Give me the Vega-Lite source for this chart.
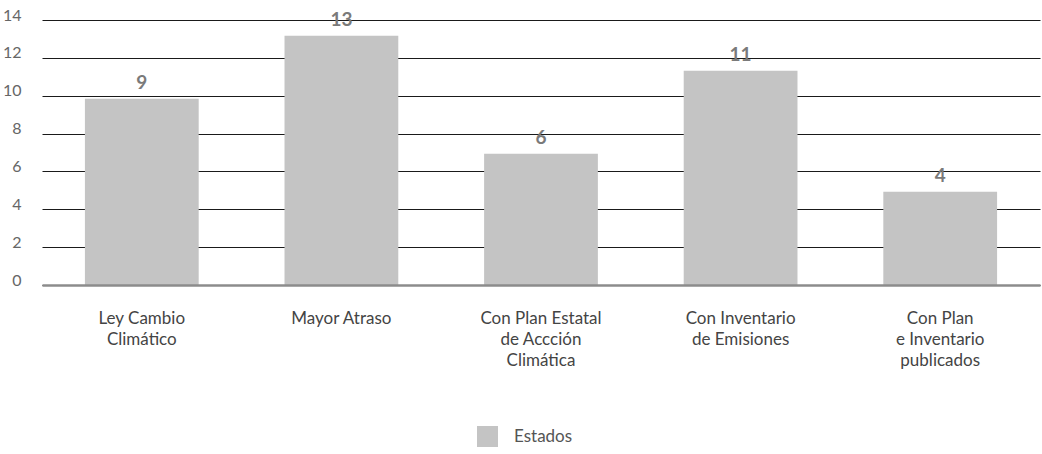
{
  "$schema": "https://vega.github.io/schema/vega-lite/v6.json",
  "width": 998,
  "height": 265,
  "autosize": {"type": "none"},
  "padding": {"left": 42, "top": 20, "right": 2, "bottom": 169},
  "background": "white",
  "config": {
    "view": {"stroke": null},
    "font": "Lato"
  },
  "data": {
    "values": [
      {"categoria": "Ley Cambio|Climático", "valor": 9.84, "etiqueta": "9", "serie": "Estados"},
      {"categoria": "Mayor Atraso", "valor": 13.17, "etiqueta": "13", "serie": "Estados"},
      {"categoria": "Con Plan Estatal|de Accción|Climática", "valor": 6.93, "etiqueta": "6", "serie": "Estados"},
      {"categoria": "Con Inventario|de Emisiones", "valor": 11.32, "etiqueta": "11", "serie": "Estados"},
      {"categoria": "Con Plan|e Inventario|publicados", "valor": 4.92, "etiqueta": "4", "serie": "Estados"}
    ]
  },
  "encoding": {
    "x": {
      "field": "categoria",
      "type": "nominal",
      "sort": null,
      "scale": {"paddingInner": 0.43, "paddingOuter": 0.215},
      "axis": {
        "title": null,
        "labelAngle": 0,
        "labelExpr": "split(datum.label, '|')",
        "labelFontSize": 17,
        "labelColor": "#444444",
        "labelLineHeight": 21,
        "labelPadding": 25,
        "labelBaseline": "top",
        "ticks": false,
        "domainColor": "#8c8c8c",
        "domainWidth": 2.5,
        "zindex": 1
      }
    },
    "y": {
      "field": "valor",
      "type": "quantitative",
      "scale": {"domain": [0, 14], "nice": false},
      "axis": {
        "title": null,
        "values": [0, 2, 4, 6, 8, 10, 12, 14],
        "ticks": false,
        "domain": false,
        "labelPadding": 21,
        "labelOffset": -5,
        "labelFontSize": 16,
        "labelColor": "#666666",
        "gridColor": "#1a1a1a",
        "gridWidth": 1,
        "gridOpacity": 1
      }
    }
  },
  "layer": [
    {
      "mark": {"type": "bar", "color": "#c4c4c4"},
      "encoding": {
        "color": {
          "field": "serie",
          "type": "nominal",
          "scale": {"range": ["#c4c4c4"]},
          "legend": {
            "title": null,
            "orient": "none",
            "legendX": 435,
            "legendY": 406,
            "symbolType": "square",
            "symbolSize": 441,
            "symbolStrokeWidth": 0,
            "labelFontSize": 17,
            "labelColor": "#555555",
            "labelOffset": 16
          }
        }
      }
    },
    {
      "mark": {"type": "text", "dy": -10, "baseline": "alphabetic", "fontSize": 19, "fontWeight": "bold", "color": "#7a7a7a"},
      "encoding": {
        "text": {"field": "etiqueta"}
      }
    }
  ]
}
